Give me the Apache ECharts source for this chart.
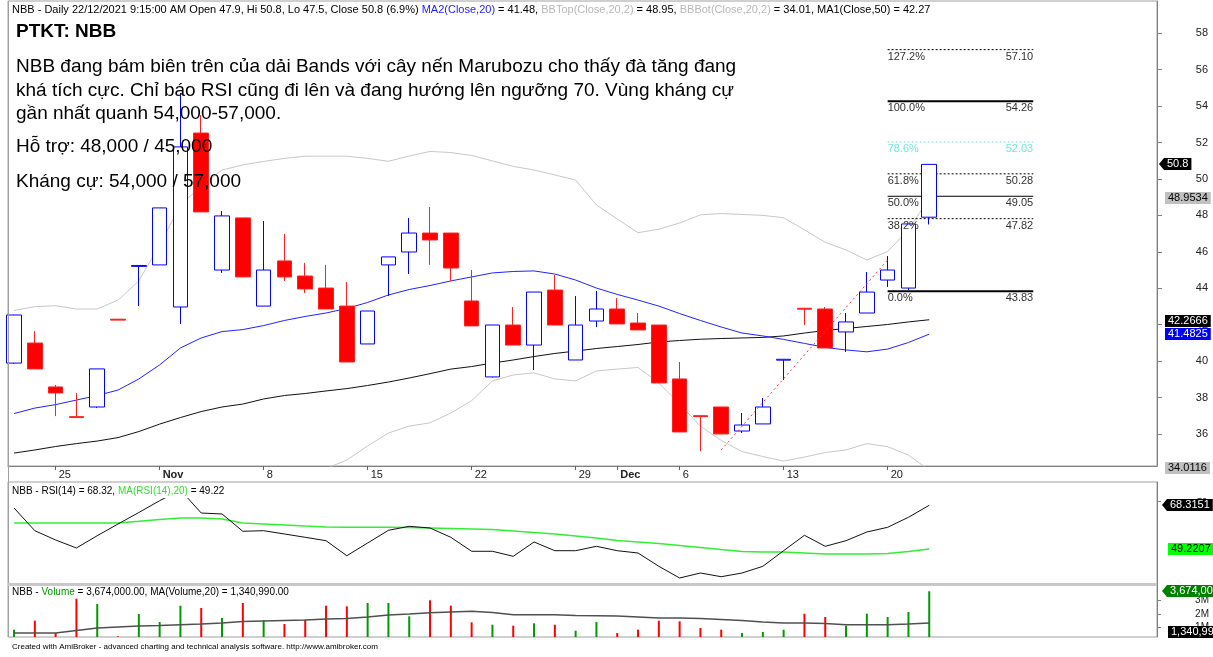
<!DOCTYPE html>
<html>
<head>
<meta charset="utf-8">
<title>PTKT: NBB</title>
<script src="https://cdn.jsdelivr.net/npm/echarts@6.0.0/dist/echarts.min.js"></script>
<style>
  html, body { margin: 0; padding: 0; background: #fff; }
  #chart { width: 1213px; height: 657px; }
</style>
</head>
<body>
<div id="chart"></div>
<script>
// ---- data ----
const dates = ['2021-10-21','2021-10-22','2021-10-25','2021-10-26','2021-10-27','2021-10-28','2021-10-29',
  '2021-11-01','2021-11-02','2021-11-03','2021-11-04','2021-11-05','2021-11-08','2021-11-09','2021-11-10',
  '2021-11-11','2021-11-12','2021-11-15','2021-11-16','2021-11-17','2021-11-18','2021-11-19','2021-11-22',
  '2021-11-23','2021-11-24','2021-11-25','2021-11-26','2021-11-29','2021-11-30','2021-12-01','2021-12-02',
  '2021-12-03','2021-12-06','2021-12-07','2021-12-08','2021-12-09','2021-12-10','2021-12-13','2021-12-14',
  '2021-12-15','2021-12-16','2021-12-17','2021-12-20','2021-12-21','2021-12-22'];

const open  = [39.89, 40.99, 38.58, 36.95, 37.48, 42.30, 45.20, 45.28, 42.97, 52.52, 45.00, 47.86, 43.02, 45.50, 44.67,
  44.01, 43.02, 40.94, 45.28, 45.99, 47.03, 47.03, 43.30, 39.13, 41.98, 40.88, 43.90, 40.06, 42.20, 42.86,
  42.09, 41.98, 39.02, 37.00, 37.48, 36.16, 36.55, 40.05, 42.90, 42.86, 41.60, 42.64, 44.45, 44.01, 47.90];
const close = [42.53, 39.57, 38.25, 36.90, 39.57, 42.25, 45.25, 48.41, 51.76, 48.19, 47.97, 44.62, 45.00, 44.62, 43.96,
  42.86, 39.95, 42.75, 45.72, 47.03, 46.65, 45.11, 41.93, 41.98, 40.88, 43.79, 41.98, 41.98, 42.86, 42.04,
  41.71, 38.80, 36.11, 36.95, 36.00, 36.49, 37.48, 40.10, 42.85, 40.72, 42.15, 43.79, 45.00, 47.53, 50.80];
const low   = [39.85, 39.57, 36.98, 36.90, 37.42, 42.25, 43.02, 45.28, 42.04, 48.19, 44.84, 44.62, 43.02, 44.40, 43.74,
  42.86, 39.95, 40.94, 43.57, 44.78, 45.28, 44.40, 41.93, 39.10, 40.88, 39.51, 41.98, 40.06, 41.87, 42.04,
  41.71, 38.80, 36.11, 35.06, 36.00, 36.05, 36.55, 38.96, 41.98, 40.72, 40.50, 42.64, 44.07, 43.90, 47.50];
const high  = [42.55, 41.65, 38.69, 38.25, 39.57, 42.30, 45.25, 48.41, 54.72, 53.51, 48.24, 47.86, 47.69, 46.98, 45.39,
  45.28, 44.34, 42.75, 45.72, 47.86, 48.46, 47.03, 45.00, 41.98, 42.97, 43.79, 44.73, 43.57, 43.85, 43.46,
  42.64, 41.98, 39.95, 37.00, 37.48, 37.15, 37.97, 40.10, 42.90, 42.97, 42.64, 44.89, 45.77, 47.53, 50.80];

const ma20 = [37.12, 37.42, 37.61, 37.86, 38.11, 38.41, 39.02, 39.79, 40.72, 41.27, 41.62, 41.73, 41.95, 42.23, 42.45,
  42.64, 42.89, 43.22, 43.63, 43.93, 44.15, 44.40, 44.62, 44.84, 44.92, 44.95, 44.78, 44.45, 44.01, 43.66,
  43.35, 43.02, 42.61, 42.23, 41.87, 41.54, 41.38, 41.19, 40.97, 40.75, 40.61, 40.51, 40.66, 41.02, 41.48];
const ma50 = [34.95, 35.12, 35.31, 35.47, 35.61, 35.80, 36.13, 36.54, 36.90, 37.23, 37.48, 37.64, 37.92, 38.11, 38.22,
  38.36, 38.49, 38.66, 38.85, 39.07, 39.31, 39.56, 39.70, 39.89, 40.06, 40.25, 40.42, 40.55, 40.69, 40.80,
  40.91, 41.05, 41.13, 41.20, 41.24, 41.27, 41.30, 41.38, 41.54, 41.68, 41.79, 41.90, 42.01, 42.15, 42.27];
const bbTop = [42.78, 42.99, 43.04, 42.86, 42.86, 43.35, 44.40, 46.37, 48.57, 49.61, 50.49, 50.77, 50.96, 51.13, 51.25,
  51.25, 51.25, 51.13, 50.97, 51.26, 51.51, 51.45, 51.29, 50.99, 50.69, 50.49, 50.22, 49.94, 48.57, 47.80,
  47.05, 47.24, 47.58, 48.03, 48.10, 48.05, 48.00, 47.87, 47.21, 46.52, 46.10, 45.55, 46.02, 47.20, 48.95];
const bbBot = [31.46, 31.85, 32.18, 32.86, 33.36, 33.47, 33.64, 33.21, 32.87, 32.93, 32.75, 32.69, 32.94, 33.33, 33.65,
  34.10, 34.57, 35.34, 36.05, 36.43, 36.61, 37.15, 37.83, 38.91, 39.24, 39.35, 39.02, 38.91, 39.46, 39.56,
  39.65, 38.80, 37.64, 36.43, 35.64, 35.03, 34.76, 34.51, 34.73, 34.98, 35.12, 35.47, 35.30, 34.84, 34.01];

const rsi = [67.14, 57.22, 53.15, 49.66, 55.03, 60.15, 65.17, 70.33, 75.00, 64.95, 64.52, 56.96, 57.22, 55.78, 54.33,
  52.85, 46.29, 51.84, 57.39, 59.14, 58.40, 54.33, 48.22, 48.22, 46.03, 52.28, 48.48, 48.48, 50.40, 48.48,
  47.47, 41.66, 36.55, 38.73, 37.11, 38.73, 41.66, 48.48, 55.21, 50.40, 52.85, 56.65, 58.70, 63.08, 68.32];
const rsiMa = [60.58, 60.58, 60.58, 60.58, 60.58, 60.58, 61.30, 62.10, 62.77, 62.77, 62.33, 60.58, 60.15, 59.71, 59.27,
  58.84, 58.70, 58.70, 58.70, 58.62, 58.40, 58.18, 57.96, 57.74, 57.09, 56.43, 55.78, 54.90, 54.03, 52.94,
  52.28, 51.62, 50.75, 49.88, 49.00, 48.13, 47.91, 47.91, 47.47, 47.03, 47.03, 47.03, 47.25, 48.13, 49.22];

const volume = [848000, 1510000, 605000, 3129000, 2739000, 362000, 2003000, 1415000, 2614000, 2445000, 1709000,
  2813000, 1540000, 1267000, 1584000, 2614000, 2570000, 2813000, 2813000, 1834000, 3011000, 2614000, 1393000,
  1216000, 1142000, 1319000, 1216000, 774000, 1415000, 605000, 848000, 1510000, 1466000, 973000, 848000,
  605000, 679000, 848000, 2025000, 1783000, 1142000, 2025000, 1783000, 2150000, 3674000];
const volumeMa = [605000, 605000, 605000, 789000, 973000, 1047000, 1120000, 1157000, 1216000, 1267000, 1341000,
  1451000, 1488000, 1525000, 1562000, 1635000, 1672000, 1782000, 1930000, 2003000, 2099000, 2150000, 2202000,
  2114000, 1952000, 1952000, 1952000, 1893000, 1878000, 1856000, 1782000, 1709000, 1709000, 1672000, 1598000,
  1525000, 1415000, 1341000, 1341000, 1304000, 1216000, 1216000, 1216000, 1267000, 1340990];

// x-axis tick labels (bar index -> text)
const tickIdx  = [2, 7, 12, 17, 22, 27, 29, 32, 37, 42];
const tickText = ['25', 'Nov', '8', '15', '22', '29', 'Dec', '6', '13', '20'];

// price axis labels
const priceTicks = [36, 38, 40, 42, 44, 46, 48, 50, 52, 54, 56, 58];
const volTicks = [1000000, 2000000, 3000000];
const volTickText = ['1M', '2M', '3M'];

// Fibonacci retracement drawn on the chart
const fibPct = ['127.2%', '100.0%', '78.6%', '61.8%', '50.0%', '38.2%', '0.0%'];
const fibVal = [57.10, 54.26, 52.03, 50.28, 49.05, 47.82, 43.83];
const fibFrom = 42, fibTo = 49;

// red dotted trend line (bar index, price)
const trendLine = [[34, 35.12], [42, 45.55]];

// last-value tags on the right
const priceTags = [50.8, 48.9534, 42.2666, 41.4825, 34.0116];
const rsiTags = [68.3151, 49.2207];
const volTags = [3674000, 1340990];

// ---- chart ----
const FONT = 'Liberation Sans, Arial, sans-serif';
const X_MIN = -0.29, X_MAX = 54.95;
const GRID_L = 8, GRID_W = 1149;

const idx = dates.map((d, i) => i);
const pairs = arr => arr.map((v, i) => [i, v]);
const candleData = idx.map(i => [i, open[i], close[i], low[i], high[i]]);

const fibStyle = {
  '127.2%': { color: '#000', width: 1, type: [2, 2], text: '#333' },
  '100.0%': { color: '#000', width: 2, type: 'solid', text: '#333' },
  '78.6%':  { color: '#6ee6dc', width: 1, type: [2, 2], text: '#6ee6dc' },
  '61.8%':  { color: '#000', width: 1, type: [2, 2], text: '#333' },
  '50.0%':  { color: '#000', width: 1, type: 'solid', text: '#333' },
  '38.2%':  { color: '#000', width: 1, type: [2, 2], text: '#333' },
  '0.0%':   { color: '#000', width: 2, type: 'solid', text: '#333' }
};

function hiddenX(gridIndex) {
  return { type: 'value', gridIndex, min: X_MIN, max: X_MAX, show: false, splitLine: { show: false } };
}

const chart = echarts.init(document.getElementById('chart'), null, { renderer: 'canvas' });

const fibSeries = fibPct.map((p, k) => ({
  type: 'line', xAxisIndex: 0, yAxisIndex: 0, symbol: 'none', silent: true, z: 3,
  data: [[fibFrom, fibVal[k]], [fibTo, fibVal[k]]],
  lineStyle: { color: fibStyle[p].color, width: fibStyle[p].width, type: fibStyle[p].type }
}));

chart.setOption({
  animation: false,
  backgroundColor: '#fff',
  textStyle: { fontFamily: FONT },
  grid: [
    { left: GRID_L, top: 1, width: GRID_W, height: 465, show: true, borderColor: '#a0a0a0', borderWidth: 1 },
    { left: GRID_L, top: 482, width: GRID_W, height: 103, show: true, borderColor: '#a0a0a0', borderWidth: 1 },
    { left: GRID_L, top: 585, width: GRID_W, height: 52, show: true, borderColor: '#a0a0a0', borderWidth: 1 }
  ],
  xAxis: [
    {
      type: 'value', gridIndex: 0, min: X_MIN, max: X_MAX,
      splitLine: { show: false },
      axisLine: { show: true, onZero: false, lineStyle: { color: '#808080' } },
      axisTick: { show: true, customValues: tickIdx, length: 4, lineStyle: { color: '#606060' } },
      axisLabel: {
        customValues: tickIdx, align: 'left', margin: 3, padding: [0, 0, 0, 3],
        color: '#222', fontSize: 11, fontFamily: FONT,
        formatter: v => {
          const t = tickText[tickIdx.indexOf(Math.round(v))] || '';
          return /[A-Za-z]/.test(t) ? '{m|' + t + '}' : t;
        },
        rich: { m: { fontWeight: 'bold', fontSize: 11, fontFamily: FONT, color: '#222' } }
      }
    },
    hiddenX(1),
    hiddenX(2)
  ],
  yAxis: [
    {
      type: 'value', gridIndex: 0, position: 'right', min: 34.24, max: 59.77,
      splitLine: { show: false },
      axisLine: { show: true, onZero: false, lineStyle: { color: '#808080' } },
      axisTick: { show: true, customValues: priceTicks, length: 5, lineStyle: { color: '#808080' } },
      axisLabel: { customValues: priceTicks, align: 'right', margin: 51, color: '#222', fontSize: 11, fontFamily: FONT }
    },
    {
      type: 'value', gridIndex: 1, position: 'right', min: 33.49, max: 78.5,
      splitLine: { show: false },
      axisLine: { show: true, onZero: false, lineStyle: { color: '#808080' } },
      axisTick: { show: true, customValues: [70], length: 4, lineStyle: { color: '#808080' } },
      axisLabel: { customValues: [70], align: 'right', margin: 50, color: '#222', fontSize: 9, fontFamily: FONT }
    },
    {
      type: 'value', gridIndex: 2, position: 'right', min: 311000, max: 4137000,
      splitLine: { show: false },
      axisLine: { show: true, onZero: false, lineStyle: { color: '#808080' } },
      axisTick: { show: true, customValues: volTicks, length: 4, lineStyle: { color: '#808080' } },
      axisLabel: {
        customValues: volTicks, align: 'right', margin: 52, color: '#222', fontSize: 10, fontFamily: FONT,
        formatter: v => volTickText[volTicks.indexOf(v)] || ''
      }
    }
  ],
  series: [
    { name: 'BBTop', type: 'line', xAxisIndex: 0, yAxisIndex: 0, data: pairs(bbTop), symbol: 'none', silent: true, z: 2,
      lineStyle: { color: '#c8c8c8', width: 1 } },
    { name: 'BBBot', type: 'line', xAxisIndex: 0, yAxisIndex: 0, data: pairs(bbBot), symbol: 'none', silent: true, z: 2,
      lineStyle: { color: '#c8c8c8', width: 1 } },
    { name: 'MA50', type: 'line', xAxisIndex: 0, yAxisIndex: 0, data: pairs(ma50), symbol: 'none', silent: true, z: 2,
      lineStyle: { color: '#111', width: 1 } },
    { name: 'MA20', type: 'line', xAxisIndex: 0, yAxisIndex: 0, data: pairs(ma20), symbol: 'none', silent: true, z: 2,
      lineStyle: { color: '#2222ff', width: 1 } },
    {
      name: 'NBB', type: 'candlestick', xAxisIndex: 0, yAxisIndex: 0, data: candleData, barWidth: 15, z: 5, clip: true,
      itemStyle: { color: '#ffffff', color0: '#ff0000', borderColor: '#0000ff', borderColor0: '#ff2020', borderWidth: 1 }
    },
    { name: 'trend', type: 'line', xAxisIndex: 0, yAxisIndex: 0, data: trendLine, symbol: 'none', silent: true, z: 6,
      lineStyle: { color: '#ff3030', width: 1, type: [2, 3] } },
    ...fibSeries,
    { name: 'RSI', type: 'line', xAxisIndex: 1, yAxisIndex: 1, data: pairs(rsi), symbol: 'none', silent: true, z: 3,
      lineStyle: { color: '#111', width: 1 } },
    { name: 'RSI MA', type: 'line', xAxisIndex: 1, yAxisIndex: 1, data: pairs(rsiMa), symbol: 'none', silent: true, z: 2,
      lineStyle: { color: '#33ee33', width: 1.5 } },
    {
      name: 'Volume', type: 'bar', xAxisIndex: 2, yAxisIndex: 2, data: pairs(volume), barWidth: 2, z: 2,
      itemStyle: { color: p => (close[p.dataIndex] >= open[p.dataIndex] ? '#009900' : '#ff0000') }
    },
    { name: 'Volume MA', type: 'line', xAxisIndex: 2, yAxisIndex: 2, data: pairs(volumeMa), symbol: 'none', silent: true, z: 3,
      lineStyle: { color: '#505050', width: 1.5 } }
  ]
});

// ---- texts and right-hand value tags ----
const n = close.length - 1;
const fmt = v => String(Number(v.toFixed(2)));
const chg = ((close[n] - close[n - 1]) / close[n - 1] * 100).toFixed(1);
const money = v => v.toLocaleString('en-US');

function txt(x, y, text, size, extra) {
  return {
    type: 'text', x, y, z: 50, silent: true,
    style: Object.assign({ text, fill: '#000', font: size + 'px ' + FONT, verticalAlign: 'middle', align: 'left' }, extra || {})
  };
}

function tag(axis, value, label, bg, fg, x, arrow, dy) {
  const y = Math.round(chart.convertToPixel({ yAxisIndex: axis }, value)) + (dy || 0);
  const els = [{
    type: 'text', x: x + (arrow ? 5 : 0), y, z: 90, silent: true,
    style: { text: label, fill: fg, backgroundColor: bg, padding: [1, 3, 0, 3], font: '11px ' + FONT, verticalAlign: 'middle', align: 'left' }
  }];
  if (arrow) {
    els.push({ type: 'polygon', z: 90, silent: true, shape: { points: [[x, y], [x + 5, y - 6], [x + 5, y + 6]] }, style: { fill: bg } });
  }
  return els;
}

const rich = (size, map) => {
  const r = {};
  Object.keys(map).forEach(k => { r[k] = { fill: map[k], fontSize: size, fontFamily: FONT }; });
  return r;
};

const elements = [
  // header line
  {
    type: 'text', x: 12, y: 10, z: 50, silent: true,
    style: {
      text: '{k|NBB - Daily 22/12/2021 9:15:00 AM Open ' + fmt(open[n]) + ', Hi ' + fmt(high[n]) + ', Lo ' + fmt(low[n]) +
        ', Close ' + fmt(close[n]) + ' (' + chg + '%) }{b|MA2(Close,20)}{k| = ' + ma20[n].toFixed(2) +
        ', }{g|BBTop(Close,20,2)}{k| = ' + bbTop[n].toFixed(2) + ', }{g|BBBot(Close,20,2)}{k| = ' + bbBot[n].toFixed(2) +
        ', MA1(Close,50) = ' + ma50[n].toFixed(2) + '}',
      verticalAlign: 'middle', align: 'left',
      rich: rich(11, { k: '#000', b: '#2222ff', g: '#b8b8b8' })
    }
  },
  txt(16, 32, 'PTKT: NBB', 19, { font: 'bold 19px ' + FONT }),
  txt(16, 66.5, 'NBB đang bám biên trên của dải Bands với cây nến Marubozu cho thấy đà tăng đang', 19),
  txt(16, 90.5, 'khá tích cực. Chỉ báo RSI cũng đi lên và đang hướng lên ngưỡng 70. Vùng kháng cự', 19),
  txt(16, 113.5, 'gần nhất quanh 54,000-57,000.', 19),
  txt(16, 147, 'Hỗ trợ: 48,000 / 45,000', 19),
  txt(16, 182, 'Kháng cự: 54,000 / 57,000', 19),
  // RSI title (white box hides the line under it)
  {
    type: 'text', x: 11, y: 491, z: 50, silent: true,
    style: {
      text: '{k|NBB - RSI(14) = ' + rsi[n].toFixed(2) + ', }{g|MA(RSI(14),20)}{k| = ' + rsiMa[n].toFixed(2) + '}',
      backgroundColor: '#fff', padding: [2, 1, 2, 1], verticalAlign: 'middle', align: 'left',
      rich: rich(10, { k: '#000', g: '#33dd33' })
    }
  },
  // Volume title
  {
    type: 'text', x: 12, y: 592, z: 50, silent: true,
    style: {
      text: '{k|NBB - }{g|Volume}{k| = ' + money(volume[n]) + '.00, MA(Volume,20) = ' + money(volumeMa[n]) + '.00}',
      verticalAlign: 'middle', align: 'left',
      rich: rich(10, { k: '#000', g: '#009900' })
    }
  },
  // continuous left frame and the pane separator
  { type: 'line', z: 40, silent: true, shape: { x1: GRID_L + 0.5, y1: 1, x2: GRID_L + 0.5, y2: 637 }, style: { stroke: '#a0a0a0', lineWidth: 1 } },
  { type: 'line', z: 40, silent: true, shape: { x1: GRID_L, y1: 584.5, x2: GRID_L + GRID_W, y2: 584.5 }, style: { stroke: '#c8c8c8', lineWidth: 3 } },
  txt(12, 647, 'Created with AmiBroker - advanced charting and technical analysis software. http://www.amibroker.com', 8)
];

// Fibonacci labels
const xFrom = chart.convertToPixel({ xAxisIndex: 0 }, fibFrom);
const xTo = chart.convertToPixel({ xAxisIndex: 0 }, fibTo);
fibPct.forEach((p, k) => {
  const y = chart.convertToPixel({ yAxisIndex: 0 }, fibVal[k]) + 7;
  elements.push(txt(xFrom, y, p, 11, { fill: fibStyle[p].text }));
  elements.push(txt(xTo, y, fibVal[k].toFixed(2), 11, { fill: fibStyle[p].text, align: 'right' }));
});

// right-hand tags
elements.push(
  ...tag(0, priceTags[0], String(priceTags[0]), '#000', '#fff', 1159, true, 0),
  ...tag(0, priceTags[1], priceTags[1].toFixed(4), '#c0c0c0', '#000', 1165, false, 0),
  ...tag(0, priceTags[2], priceTags[2].toFixed(4), '#000', '#fff', 1165, false, 1),
  ...tag(0, priceTags[3], priceTags[3].toFixed(4), '#0000ff', '#fff', 1165, false, 0),
  ...tag(0, priceTags[4], priceTags[4].toFixed(4), '#c0c0c0', '#000', 1165, false, -2),
  ...tag(1, rsiTags[0], rsiTags[0].toFixed(4), '#000', '#fff', 1162, true, 0),
  ...tag(1, rsiTags[1], rsiTags[1].toFixed(4), '#00ff00', '#000', 1168, false, 0),
  ...tag(2, volTags[0], money(volTags[0]), '#008000', '#fff', 1162, true, 0),
  ...tag(2, volTags[1], money(volTags[1]), '#000', '#fff', 1168, false, 9)
);

chart.setOption({ graphic: { elements } });
</script>
</body>
</html>
